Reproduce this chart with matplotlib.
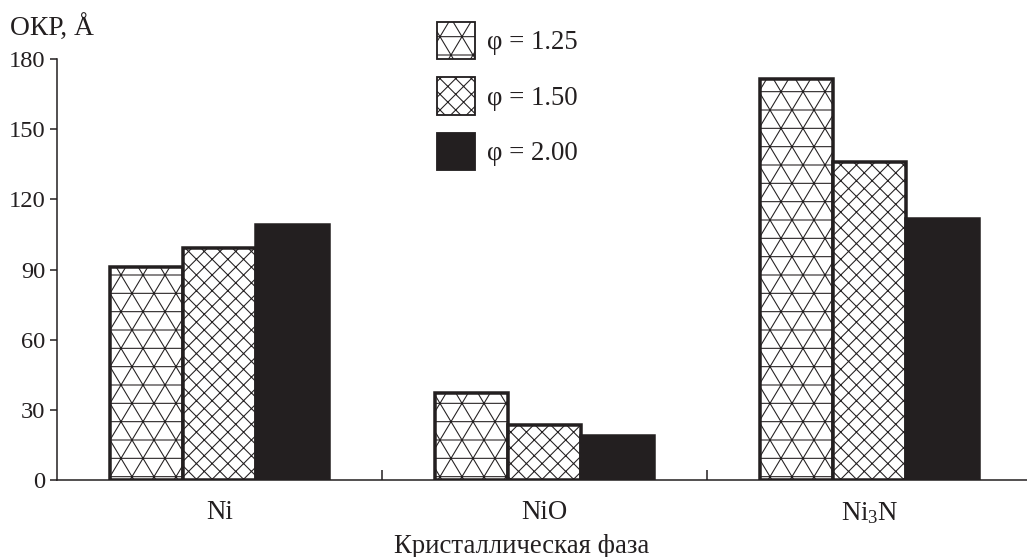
import warnings
import numpy as np
import matplotlib
matplotlib.use("Agg")
import matplotlib.pyplot as plt
import matplotlib.hatch as mhatch
from matplotlib.path import Path

warnings.filterwarnings("ignore")

# ---------------- data ----------------
categories = ["Ni", "NiO", r"Ni$_\mathrm{3}$N"]
series_labels = ["φ = 1.25", "φ = 1.50", "φ = 2.00"]
phi_125 = [91, 37, 171.5]
phi_150 = [99, 23.5, 136]
phi_200 = [109, 19, 111.5]
y_ticks = [0, 30, 60, 90, 120, 150, 180]
y_label = "ОКР, Å"
x_label = "Кристаллическая фаза"


# ---------------- custom hatches ----------------
def _fill(segs, vertices, codes):
    i = 0
    for (a, b) in segs:
        vertices[i] = a
        vertices[i + 1] = b
        codes[i] = Path.MOVETO
        codes[i + 1] = Path.LINETO
        i += 2


class TriangleHatch(mhatch.HatchPatternBase):
    R = 6  # horizontal rows per tile
    C = 5  # vertex columns per tile

    def _segs(self):
        R, C = self.R, self.C
        half = int(np.ceil(R / 2))
        dx = R / (2 * C)
        segs = []
        for j in range(R + 1):
            segs.append(((0, j / R), (1, j / R)))
        for k in range(-half, C + 1):
            segs.append(((k / C, 0), (k / C + dx, 1)))
        for k in range(0, C + half + 1):
            segs.append(((k / C, 0), (k / C - dx, 1)))
        return segs

    def __init__(self, hatch, density):
        self.on = hatch.count('t') > 0
        self.num_vertices = 2 * len(self._segs()) if self.on else 0

    def set_vertices_and_codes(self, vertices, codes):
        if self.on:
            _fill(self._segs(), vertices, codes)


class CrossHatch(mhatch.HatchPatternBase):
    N = 7

    def _segs(self):
        N = self.N
        segs = []
        for k in range(-N, N + 1):
            segs.append(((k / N, 0), (k / N + 1, 1)))
        for k in range(0, 2 * N + 1):
            segs.append(((k / N, 0), (k / N - 1, 1)))
        return segs

    def __init__(self, hatch, density):
        self.on = hatch.count('c') > 0
        self.num_vertices = 2 * len(self._segs()) if self.on else 0

    def set_vertices_and_codes(self, vertices, codes):
        if self.on:
            _fill(self._segs(), vertices, codes)


mhatch._hatch_types.append(TriangleHatch)
mhatch._hatch_types.append(CrossHatch)

# ---------------- style ----------------
plt.rcParams['font.family'] = ['Liberation Serif', 'DejaVu Serif']
plt.rcParams['mathtext.fontset'] = 'custom'
plt.rcParams['mathtext.rm'] = 'Liberation Serif'
plt.rcParams['mathtext.it'] = 'Liberation Serif:italic'
plt.rcParams['hatch.linewidth'] = 0.7
DPI = 110
FS_TICK = 16
FS = 17.5
INK = '#231f20'

W, H = 1027, 557
fig = plt.figure(figsize=(W / DPI, H / DPI), dpi=DPI)
ax = fig.add_axes([57 / W, (H - 480) / H, (W - 57) / W, 421 / H])

x = np.arange(len(categories)) + 0.5
bw = 73 / 325
series = [phi_125, phi_150, phi_200]
hatches = ['t', 'c', None]
faces = ['white', 'white', INK]
for i, (vals, lab, h, fc) in enumerate(zip(series, series_labels, hatches, faces)):
    ax.bar(x + (i - 1) * bw, vals, width=bw, facecolor=fc, edgecolor=INK,
           linewidth=2.3, hatch=h, label=lab, joinstyle='miter', zorder=2)

ax.set_xlim(0, (W - 57) / 325)
ax.set_ylim(0, 180)
ax.set_yticks(y_ticks)
ax.set_xticks(x)
ax.set_xticklabels(categories)
ax.set_xticks([1, 2], minor=True)
ax.tick_params(axis='y', direction='out', length=4.6, width=1, pad=3,
               labelsize=FS_TICK, colors=INK)
ax.tick_params(axis='x', which='major', length=0, pad=13, labelsize=FS,
               colors=INK)
ax.tick_params(axis='x', which='minor', direction='in', length=6.5, width=1,
               color=INK)
for s in ['top', 'right']:
    ax.spines[s].set_visible(False)
for s in ['left', 'bottom']:
    ax.spines[s].set_linewidth(1)
    ax.spines[s].set_color(INK)
    ax.spines[s].set_zorder(3)

ax.set_xlabel(x_label, fontsize=FS, color=INK, va='baseline')
ax.xaxis.set_label_coords((522 - 57) / 970, (480 - 553) / 421)
fig.text(10 / W, 1 - 36 / H, y_label, fontsize=18, color=INK, va='baseline',
         ha='left')

leg = ax.legend(loc='upper left', bbox_to_anchor=(437 / W, 1 - 22 / H),
                bbox_transform=fig.transFigure, frameon=False, fontsize=FS,
                handlelength=1.42, handleheight=1.78, handletextpad=0.45,
                labelspacing=0.67, borderpad=0, borderaxespad=0)
for t in leg.get_texts():
    t.set_color(INK)
for p in leg.get_patches():
    p.set_linewidth(1.2)

fig.savefig('out.png', dpi=DPI)
